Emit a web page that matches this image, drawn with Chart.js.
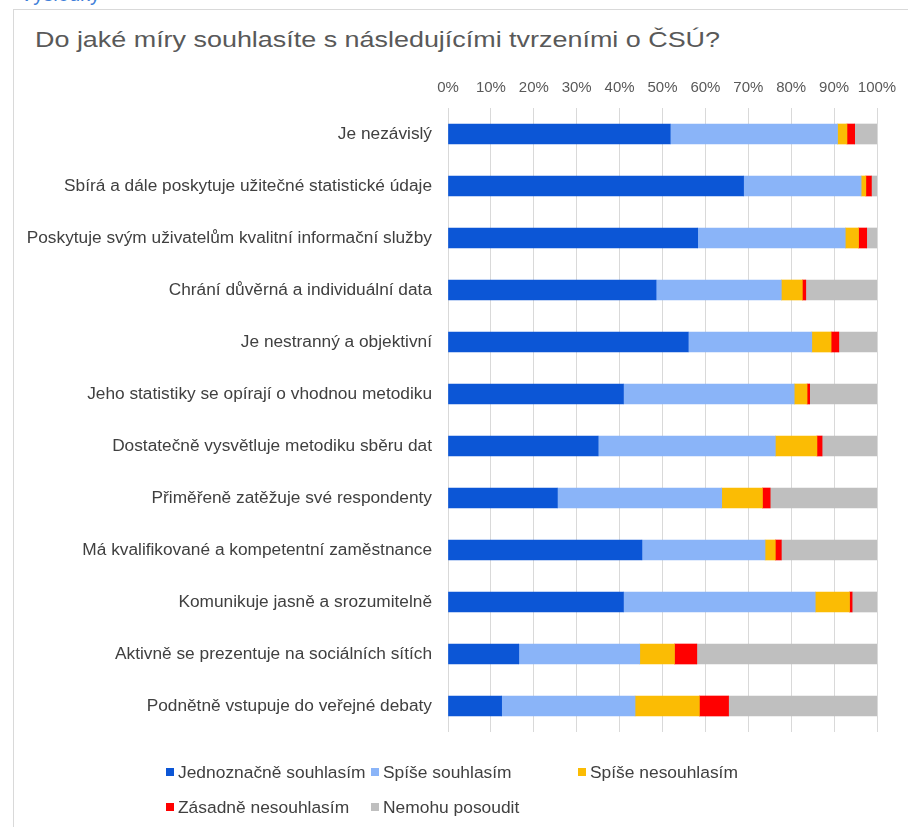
<!DOCTYPE html>
<html>
<head>
<meta charset="utf-8">
<script src="https://cdn.jsdelivr.net/npm/chart.js@4/dist/chart.umd.min.js"></script>
<style>
    body { margin: 0; background: #fff; font-family: "Liberation Sans", Arial, sans-serif; }
    #page { position: relative; width: 908px; height: 827px; overflow: hidden; }
    #frame { position: absolute; left: 13px; top: 9px; right: -2px; bottom: -2px; border-left: 1px solid #d9d9d9; border-top: 1px solid #d9d9d9; }
    #cut { position: absolute; left: 20px; top: -17px; font-size: 20px; color: #3f7fd9; white-space: nowrap; }
    #title { position: absolute; left: 35px; top: 27px; font-size: 22px; color: #595959; white-space: nowrap; transform-origin: 0 0; }
    #wrap { position: absolute; left: 0; top: 0; width: 908px; height: 827px; }
    #legend { position: absolute; left: 166px; top: 761px; display: grid; grid-template-columns: 205px 207px auto; row-gap: 13px; font-size: 17.4px; color: #404040; }
    #legend span.item { display: flex; align-items: center; white-space: nowrap; height: 22px; }
    #legend i { display: inline-block; flex: none; width: 8px; height: 8px; margin-right: 4px; }
</style>
</head>
<body>
<div id="page">
    <div id="frame"></div>
    <div id="cut">Výsledky</div>
    <div id="title">Do jaké míry souhlasíte s následujícími tvrzeními o ČSÚ?</div>
    <div id="wrap"><canvas id="chart"></canvas></div>
    <div id="legend"></div>
</div>
<script>
const categories = [
    "Je nezávislý",
    "Sbírá a dále poskytuje užitečné statistické údaje",
    "Poskytuje svým uživatelům kvalitní informační služby",
    "Chrání důvěrná a individuální data",
    "Je nestranný a objektivní",
    "Jeho statistiky se opírají o vhodnou metodiku",
    "Dostatečně vysvětluje metodiku sběru dat",
    "Přiměřeně zatěžuje své respondenty",
    "Má kvalifikované a kompetentní zaměstnance",
    "Komunikuje jasně a srozumitelně",
    "Aktivně se prezentuje na sociálních sítích",
    "Podnětně vstupuje do veřejné debaty",
]

const seriesNames = ["Jednoznačně souhlasím", "Spíše souhlasím", "Spíše nesouhlasím", "Zásadně nesouhlasím", "Nemohu posoudit"]
const seriesColors = ["#0c56d6", "#8ab4f8", "#fbbc04", "#ff0000", "#bfbfbf"]

const jednoznacne = [51.8, 68.9, 58.2, 48.5, 56.0, 40.9, 35.0, 25.5, 45.2, 40.9, 16.5, 12.5]
const spiseAno = [39.0, 27.4, 34.4, 29.2, 28.8, 39.8, 41.3, 38.3, 28.7, 44.7, 28.2, 31.1]
const spiseNe = [2.2, 1.1, 3.1, 4.9, 4.5, 3.0, 9.7, 9.5, 2.4, 8.0, 8.1, 15.0]
const zasadne = [1.8, 1.3, 1.9, 0.8, 1.8, 0.6, 1.2, 1.8, 1.4, 0.6, 5.2, 6.8]
const nevim = [5.2, 1.3, 2.4, 16.6, 8.9, 15.7, 12.8, 24.9, 22.3, 5.8, 42.0, 34.6]

const tickLabels = ["0%", "10%", "20%", "30%", "40%", "50%", "60%", "70%", "80%", "90%", "100%"]

const seriesValues = [jednoznacne, spiseAno, spiseNe, zasadne, nevim]

const datasets = seriesNames.map((name, i) => {
    return {
        label: name,
        data: seriesValues[i],
        backgroundColor: seriesColors[i],
        borderWidth: 0,
        barThickness: 20,
    }
})

// title in the original is set wider than the regular face
const titleEl = document.getElementById("title")
titleEl.style.transform = `scaleX(${685 / titleEl.offsetWidth})`

// legend laid out like the original (three columns, two rows)
const legendEl = document.getElementById("legend")
seriesNames.forEach((name, i) => {
    const item = document.createElement("span")
    item.className = "item"
    item.innerHTML = `<i style="background:${seriesColors[i]}"></i>${name}`
    legendEl.appendChild(item)
})

new Chart(document.getElementById("chart"), {
    type: "bar",
    data: {
        labels: categories,
        datasets,
    },
    options: {
        indexAxis: "y",
        responsive: true,
        maintainAspectRatio: false,
        animation: false,
        layout: {
            padding: { top: 68, right: 31, bottom: 95, left: 0 },
        },
        plugins: {
            legend: { display: false },
            title: { display: false },
            tooltip: { enabled: false },
        },
        scales: {
            x: {
                position: "top",
                stacked: true,
                min: 0,
                max: 100,
                afterFit: (scale) => {
                    scale.height = 40
                },
                grid: {
                    color: "#d9d9d9",
                    lineWidth: 1,
                    drawTicks: false,
                },
                border: { display: false },
                ticks: {
                    stepSize: 10,
                    padding: 11,
                    maxRotation: 0,
                    minRotation: 0,
                    autoSkip: false,
                    color: "#595959",
                    font: { family: "'Liberation Sans Narrow', 'Liberation Sans'", size: 15 },
                    callback: (value) => tickLabels[Math.round(value / 10)],
                },
            },
            y: {
                stacked: true,
                afterFit: (scale) => {
                    scale.width = 448
                },
                grid: { display: false },
                border: { display: false },
                ticks: {
                    padding: 8,
                    color: "#404040",
                    font: { family: "Liberation Sans", size: 17.3 },
                },
            },
        },
    },
})
</script>
</body>
</html>
